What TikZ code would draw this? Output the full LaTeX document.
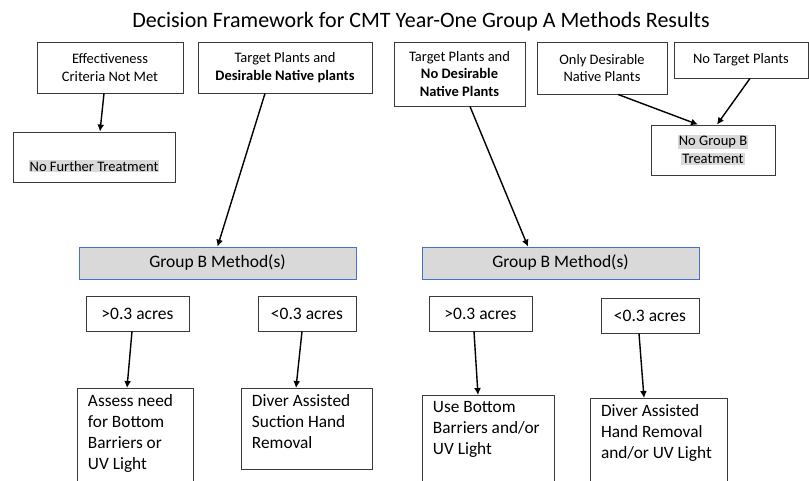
\documentclass[tikz,border=0pt]{standalone}
\usepackage{fontspec}
\setmainfont{Carlito}
\usepackage{xcolor}
\usepackage{tikz}
\usetikzlibrary{arrows.meta, positioning}
\definecolor{hlgrey}{HTML}{D9D9D9}
\definecolor{methodfill}{HTML}{D9D9D9}
\definecolor{methodline}{HTML}{4472C4}
\definecolor{boxline}{HTML}{3A3A3A}
\tikzset{
    boxnode/.style = {draw=boxline, rectangle, line width=0.9pt, inner sep=0pt, align=center,
      font=\fontsize{14.5}{17.7}\selectfont},
    methodnode/.style = {draw=methodline, fill=methodfill, rectangle, line width=0.7pt, inner sep=0pt,
      font=\fontsize{17.5}{21}\selectfont},
    acresnode/.style = {boxnode, font=\fontsize{17.5}{21}\selectfont},
    actionnode/.style = {draw=boxline, rectangle, line width=0.9pt, inner xsep=0pt, inner ysep=6pt,
      font=\fontsize{17.3}{21.1}\selectfont},
    titlenode/.style = {draw=none, fill=none, rectangle, inner sep=0pt, font=\fontsize{22}{26}\selectfont},
    connect/.style = {black, line width=1.4pt, -{Latex[length=7pt, width=7pt]}}
}
\newcommand{\hlgrey}[1]{{\setlength{\fboxsep}{1pt}\colorbox{hlgrey}{#1}}}
\newcommand{\actiontext}[3]{\begin{minipage}[t][#2][t]{#1}\raggedright\leftskip=11pt #3\end{minipage}}

\begin{document}
\begin{tikzpicture}[x=1pt, y=1pt, node distance=0pt]
\path[use as bounding box] (-421,22) rectangle (388,-458);

\node [titlenode, name=title] at (0,0) {Decision Framework for CMT Year-One Group A Methods Results};

% first row: Group A results
\node [boxnode, name=eff, below of=title, xshift=-311pt, yshift=-45.5pt, minimum width=146pt, minimum height=51pt]
  {Effectiveness\\Criteria Not Met};
\node [boxnode, name=tpd, right of=eff, xshift=175pt, minimum width=174pt, minimum height=51pt]
  {Target Plants and\\\textbf{Desirable Native plants}};
\node [boxnode, name=tpn, right of=tpd, xshift=174.5pt, yshift=-6.5pt, minimum width=131pt, minimum height=64pt]
  {Target Plants and\\\textbf{No Desirable}\\\textbf{Native Plants}};
\node [boxnode, name=odn, right of=tpn, xshift=142.5pt, yshift=6pt, minimum width=130pt, minimum height=52pt]
  {Only Desirable\\Native Plants};
\node [boxnode, name=ntp, right of=odn, xshift=139pt, yshift=8pt, minimum width=134pt, minimum height=36pt]
  {No Target Plants};

\node [boxnode, name=ngb, below of=ntp, xshift=-28pt, yshift=-90pt, minimum width=124pt, minimum height=50pt]
  {\hlgrey{No Group B}\\\hlgrey{Treatment}};
\node [boxnode, name=nft, below of=eff, xshift=-16pt, yshift=-89.5pt, minimum width=162pt, minimum height=50pt]
  {\mbox{}\\[12pt]\hlgrey{No Further Treatment}};

% Group B methods
\node [methodnode, name=gbl, below of=tpd, xshift=-67.5pt, yshift=-195.5pt, minimum width=277pt, minimum height=32pt]
  {Group B Method(s)};
\node [methodnode, name=gbr, below of=tpn, xshift=101pt, yshift=-189pt, minimum width=277pt, minimum height=32pt]
  {Group B Method(s)};

\node [acresnode, name=gtl, below of=gbl, xshift=-80pt, yshift=-50.5pt, minimum width=103pt, minimum height=35pt] {>0.3 acres};
\node [acresnode, name=ltl, below of=gbl, xshift=89.5pt, yshift=-50.5pt, minimum width=98pt, minimum height=35pt] {<0.3 acres};
\node [acresnode, name=gtr, below of=gbr, xshift=-80pt, yshift=-50.5pt, minimum width=103pt, minimum height=35pt] {>0.3 acres};
\node [acresnode, name=ltr, below of=gbr, xshift=89.5pt, yshift=-52.5pt, minimum width=98pt, minimum height=35pt] {<0.3 acres};

% treatments
\node [actionnode, name=asl, below of=gtl, anchor=north, xshift=-2.5pt, yshift=-74.5pt]
  {\actiontext{116pt}{100pt}{Assess need\\for Bottom\\Barriers or\\UV Light}};
\node [actionnode, name=dal, below of=ltl, anchor=north, xshift=-0.5pt, yshift=-74.5pt]
  {\actiontext{131pt}{69pt}{Diver Assisted\\Suction Hand\\Removal}};
\node [actionnode, name=ubb, below of=gtr, anchor=north, xshift=7.5pt, yshift=-81.5pt]
  {\actiontext{132pt}{100pt}{Use Bottom\\Barriers and/or\\UV Light}};
\node [actionnode, name=dah, below of=ltr, anchor=north, xshift=8.5pt, yshift=-82.5pt]
  {\actiontext{137pt}{100pt}{Diver Assisted\\Hand Removal\\and/or UV Light}};

\draw [connect] ([xshift=-6pt]eff.south) -- ([xshift=6pt]nft.north);
\draw [connect] ([xshift=-20pt]tpd.south) -- (gbl.north);
\draw [connect] ([xshift=10.5pt]tpn.south) -- ([xshift=-32.5pt]gbr.north);
\draw [connect] ([xshift=16pt]odn.south) -- ([xshift=-15pt]ngb.north);
\draw [connect] ([xshift=9pt]ntp.south) -- ([xshift=4pt]ngb.north);

\draw [connect] ([xshift=-5.5pt]gtl.south) -- ([xshift=-8pt]asl.north);
\draw [connect] ([xshift=-5pt]ltl.south) -- ([xshift=-10.5pt]dal.north);
\draw [connect] ([xshift=-6.5pt]gtr.south) -- ([xshift=-10pt]ubb.north);
\draw [connect] ([xshift=-11pt]ltr.south) -- ([xshift=-14.5pt]dah.north);

\end{tikzpicture}
\end{document}
